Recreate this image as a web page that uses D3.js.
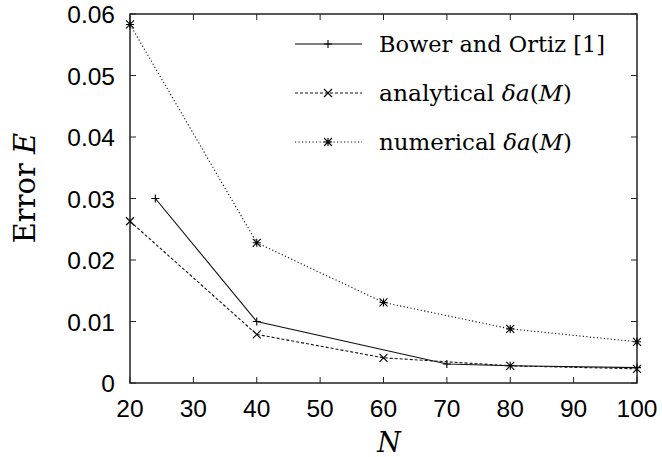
<!DOCTYPE html>
<html><head><meta charset="utf-8">
<script src="https://cdn.jsdelivr.net/npm/d3@7"></script>
<style>body{margin:0;background:#fff}</style>
</head><body>
<svg id="c" width="662" height="457"></svg>
<script>
const xTicks = [20,30,40,50,60,70,80,90,100];
const yTicks = [0,0.01,0.02,0.03,0.04,0.05,0.06];
const yTickLabels = ["0","0.01","0.02","0.03","0.04","0.05","0.06"];
const seriesNames = ["Bower and Ortiz [1]","analytical δa(M)","numerical δa(M)"];
const bowerN = [24,40,70,80,100];
const bowerE = [0.0300,0.0100,0.0031,0.0028,0.0025];
const analyticalN = [20,40,60,80,100];
const analyticalE = [0.0263,0.0079,0.0041,0.0028,0.0023];
const numericalN = [20,40,60,80,100];
const numericalE = [0.0583,0.0228,0.0131,0.0088,0.0067];

const svg = d3.select("#c");
const L=130,R=637,T=14,B=383;
const x = d3.scaleLinear().domain([20,100]).range([L,R]);
const y = d3.scaleLinear().domain([0,0.06]).range([B,T]);
const col = "#222";
const sans = "Liberation Sans, Arial, sans-serif";

const g = svg.append("g");
xTicks.forEach(t=>{
  g.append("line").attr("x1",x(t)).attr("x2",x(t)).attr("y1",B).attr("y2",B-6).attr("stroke",col);
  g.append("line").attr("x1",x(t)).attr("x2",x(t)).attr("y1",T).attr("y2",T+6).attr("stroke",col);
  g.append("text").attr("x",x(t)).attr("y",417).attr("text-anchor","middle")
   .attr("font-family",sans).attr("font-size",24.5).text(t);
});
yTicks.forEach((t,i)=>{
  g.append("line").attr("x1",L).attr("x2",L+6).attr("y1",y(t)).attr("y2",y(t)).attr("stroke",col);
  g.append("line").attr("x1",R).attr("x2",R-6).attr("y1",y(t)).attr("y2",y(t)).attr("stroke",col);
  g.append("text").attr("x",115).attr("y",y(t)+9).attr("text-anchor","end")
   .attr("font-family",sans).attr("font-size",24.5).text(yTickLabels[i]);
});
svg.append("rect").attr("x",L).attr("y",T).attr("width",R-L).attr("height",B-T)
  .attr("fill","none").attr("stroke",col).attr("stroke-width",1.5);

function marker(sel, type, cx, cy){
  const s=4;
  const p = d3.path();
  if(type==="plus"||type==="star"){p.moveTo(cx-s,cy);p.lineTo(cx+s,cy);p.moveTo(cx,cy-s);p.lineTo(cx,cy+s);}
  if(type==="cross"||type==="star"){p.moveTo(cx-s,cy-s);p.lineTo(cx+s,cy+s);p.moveTo(cx-s,cy+s);p.lineTo(cx+s,cy-s);}
  sel.append("path").attr("d",p.toString()).attr("stroke","#000").attr("stroke-width",1.1).attr("fill","none");
}

const series = [
  {n:bowerN,e:bowerE,dash:null,m:"plus"},
  {n:analyticalN,e:analyticalE,dash:"3,2",m:"cross"},
  {n:numericalN,e:numericalE,dash:"1.2,2.3",m:"star"}
];
const line = d3.line().x(d=>x(d[0])).y(d=>y(d[1]));
series.forEach((s,i)=>{
  const pts = s.n.map((v,j)=>[v,s.e[j]]);
  svg.append("path").attr("d",line(pts)).attr("fill","none").attr("stroke","#111")
    .attr("stroke-width",1.1).attr("stroke-dasharray",s.dash);
  pts.forEach(p=>marker(svg,s.m,x(p[0]),y(p[1])));
  const ly = 44+49*i;
  svg.append("line").attr("x1",295).attr("x2",362).attr("y1",ly).attr("y2",ly)
    .attr("stroke", i===0?"#555":"#111").attr("stroke-width",i===0?1.5:1.1).attr("stroke-dasharray",s.dash);
  marker(svg,s.m,328,ly);
});

const lf = "DejaVu Serif, serif";
function legendText(i, parts, w){
  const t = svg.append("text").attr("x",379).attr("y",44+49*i+8).attr("font-family",lf).attr("font-size",22)
    .attr("textLength",w).attr("lengthAdjust","spacingAndGlyphs");
  parts.forEach(p=>t.append("tspan").attr("font-style",p[1]?"italic":null).text(p[0]));
}
legendText(0,[["Bower and Ortiz [1]",false]],226);
legendText(1,[["analytical ",false],["δa",true],["(",false],["M",true],[")",false]],193);
legendText(2,[["numerical ",false],["δa",true],["(",false],["M",true],[")",false]],193);

svg.append("text").attr("x",389).attr("y",452).attr("text-anchor","middle")
  .attr("font-family",lf).attr("font-size",27).attr("font-style","italic").text("N");
const yl = svg.append("text").attr("transform","translate(35,188) rotate(-90)").attr("text-anchor","middle")
  .attr("font-family",lf).attr("font-size",29);
yl.append("tspan").text("Error ");
yl.append("tspan").attr("font-style","italic").text("E");
</script>
</body></html>
